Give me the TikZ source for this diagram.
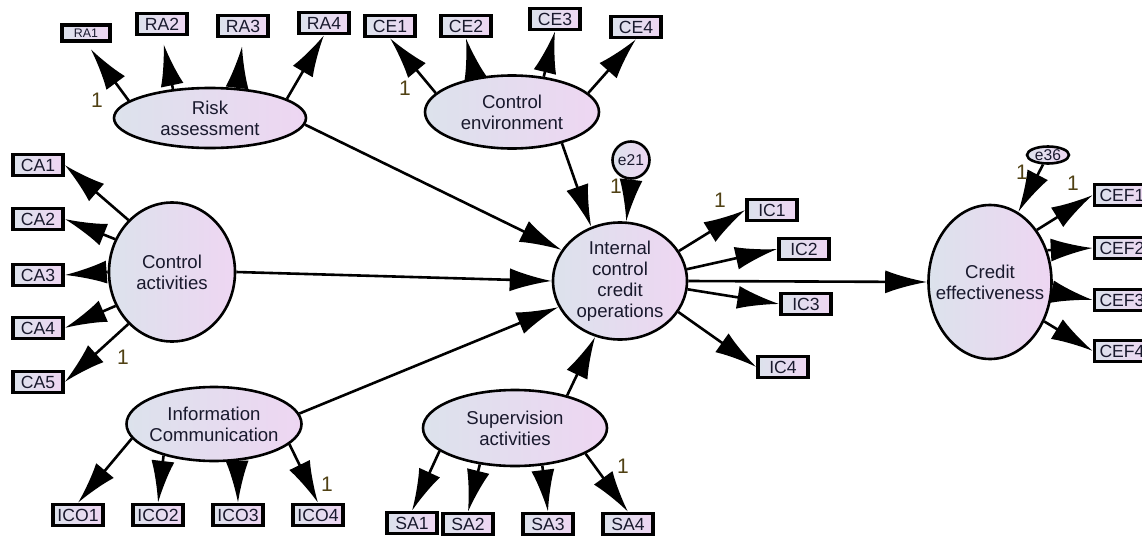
\documentclass[tikz,border=0pt]{standalone}
\usepackage{fontspec}
\setmainfont{Liberation Sans}
\usetikzlibrary{shapes.geometric, arrows.meta, positioning}
\definecolor{latblue}{RGB}{220, 226, 236}
\definecolor{latpink}{RGB}{238, 214, 242}
\definecolor{onegold}{RGB}{80, 65, 20}
\definecolor{inktext}{RGB}{25, 25, 45}

\begin{document}
\begin{tikzpicture}[x=0.5pt, y=-0.5pt,
				latent/.style={ellipse, draw=black, line width=1.3pt, left color=latblue, right color=latpink, inner sep=0pt},
				lattext/.style={align=center, font=\fontsize{9.3}{10.4}\selectfont, text=inktext},
				obs/.style={rectangle, draw=black, line width=1.7pt, left color=latblue, right color=latpink, minimum width=25pt, minimum height=10.5pt, inner sep=0pt, font=\fontsize{8.8}{9}\selectfont, text=inktext},
				obssmall/.style={obs, minimum width=24pt, minimum height=8pt, font=\fontsize{6.2}{7}\selectfont},
				err/.style={ellipse, draw=black, line width=1.3pt, left color=latblue, right color=latpink, inner sep=0pt, font=\fontsize{7.8}{8}\selectfont, text=inktext},
				arrow/.style={-{Latex[length=21pt, width=11.5pt]}, line width=1.3pt, black},
				one/.style={font=\fontsize{10.5}{11}\selectfont, text=onegold}
			]
			\useasboundingbox (0,0) rectangle (1142,536);
			\clip (0,0) rectangle (1142,536);

			% Latent variables
			\node[latent, minimum width=96pt, minimum height=30pt, label={[lattext]center:Risk\\assessment}] (ra) at (210,118) {};
			\node[latent, minimum width=87pt, minimum height=36.5pt, label={[lattext]center:Control\\environment}] (ce) at (512,112) {};
			\node[latent, minimum width=63pt, minimum height=69.5pt, label={[lattext]center:Control\\activities}] (ca) at (172,272) {};
			\node[latent, minimum width=67pt, minimum height=58.5pt, label={[lattext]center:Internal\\control\\credit\\operations}] (icco) at (620,281) {};
			\node[latent, minimum width=61.5pt, minimum height=77pt, label={[lattext]center:Credit\\effectiveness}] (cef) at (990,282) {};
			\node[latent, minimum width=87.5pt, minimum height=37pt, label={[lattext]center:Information\\Communication}] (info) at (214,424) {};
			\node[latent, minimum width=92pt, minimum height=38pt, label={[lattext]center:Supervision\\activities}] (sa) at (515,428) {};

			% Error terms
			\node[err, minimum width=18.5pt, minimum height=18.5pt] (e21) at (631,160) {e21};
			\node[err, minimum width=21pt, minimum height=8.5pt] (e36) at (1048,155) {e36};

			% Indicators
			\node[obssmall] (ra1) at (86,33) {RA1};
			\node[obs] (ra2) at (162,24) {RA2};
			\node[obs] (ra3) at (243,26) {RA3};
			\node[obs] (ra4) at (324,23) {RA4};

			\node[obs] (ce1) at (390,26) {CE1};
			\node[obs] (ce2) at (466,26) {CE2};
			\node[obs] (ce3) at (555,19) {CE3};
			\node[obs] (ce4) at (636,27) {CE4};

			\node[obs] (ca1) at (38,165) {CA1};
			\node[obs] (ca2) at (38,219) {CA2};
			\node[obs] (ca3) at (38,275) {CA3};
			\node[obs] (ca4) at (38,328) {CA4};
			\node[obs] (ca5) at (38,382) {CA5};

			\node[obs] (ic1) at (772,210) {IC1};
			\node[obs] (ic2) at (804,249) {IC2};
			\node[obs] (ic3) at (806,304) {IC3};
			\node[obs] (ic4) at (783,367) {IC4};

			\node[obs, minimum width=27.5pt] (cef1) at (1122,195) {CEF1};
			\node[obs, minimum width=27.5pt] (cef2) at (1122,248) {CEF2};
			\node[obs, minimum width=27.5pt] (cef3) at (1122,300) {CEF3};
			\node[obs, minimum width=27.5pt] (cef4) at (1122,351) {CEF4};

			\node[obs] (ico1) at (78,515) {ICO1};
			\node[obs] (ico2) at (158,515) {ICO2};
			\node[obs] (ico3) at (238,515) {ICO3};
			\node[obs] (ico4) at (318,515) {ICO4};

			\node[obs] (sa1) at (412,523) {SA1};
			\node[obs] (sa2) at (468,524) {SA2};
			\node[obs] (sa3) at (548,524) {SA3};
			\node[obs] (sa4) at (628,524) {SA4};

			% Loadings
			\draw[arrow, shorten >=4pt] (ra.168) -- (ra1.south);
			\draw[arrow, shorten >=4pt] (ra.142) -- (ra2.south);
			\draw[arrow, shorten >=4pt] (ra.48) -- (ra3.south);
			\draw[arrow] (ra.14) -- (ra4.south);

			\draw[arrow] (ce.166) -- (ce1.south);
			\draw[arrow] (ce.137) -- (ce2.south);
			\draw[arrow] (ce.48) -- (ce3.south);
			\draw[arrow] (ce.14) -- (ce4.south);

			\draw[arrow] (ca.130) -- (ca1.east);
			\draw[arrow] (ca.150) -- (ca2.east);
			\draw[arrow] (ca.180) -- (ca3.east);
			\draw[arrow] (ca.211) -- (ca4.east);
			\draw[arrow] (ca.230) -- (ca5.east);

			\draw[arrow] (icco.27) -- (ic1.west);
			\draw[arrow] (icco.10) -- (ic2.west);
			\draw[arrow] (icco.-7) -- (ic3.west);
			\draw[arrow] (icco.-28) -- (ic4.west);

			\draw[arrow] (cef.48) -- (cef1.west);
			\draw[arrow] (cef.29) -- (cef2.west);
			\draw[arrow] (cef.-9) -- (cef3.west);
			\draw[arrow] (cef.-36) -- (cef4.west);

			\draw[arrow] (info.190) -- (ico1.north);
			\draw[arrow] (info.212) -- (ico2.north);
			\draw[arrow] (info.302) -- (ico3.north);
			\draw[arrow] (info.345) -- (ico4.north);

			\draw[arrow] (sa.197) -- (sa1.north);
			\draw[arrow] (sa.226) -- (sa2.north);
			\draw[arrow] (sa.306) -- (sa3.north);
			\draw[arrow] (sa.340) -- (sa4.north);

			% Structural paths
			\draw[arrow] (ra.-4) -- (icco.152);
			\draw[arrow] (ce.-32) -- (icco.118);
			\draw[arrow] (ca.0) -- (icco.180);
			\draw[arrow] (info.7) -- (icco.203);
			\draw[arrow] (sa.32) -- (icco.246);
			\draw[arrow] (e21.south) -- (icco.84);
			\draw[arrow] (icco.0) -- (cef.180);
			\draw[arrow] (e36) -- (cef.68);

			% Fixed parameters
			\node[one] (one-ra) at (97,100) {1};
			\node[one] (one-ce) at (405,88) {1};
			\node[one] (one-ca) at (123,357) {1};
			\node[one] (one-e21) at (616,186) {1};
			\node[one] (one-ic) at (720,200) {1};
			\node[one] (one-e36) at (1022,172) {1};
			\node[one] (one-cef) at (1073,183) {1};
			\node[one] (one-ico) at (327,484) {1};
			\node[one] (one-sa) at (623,466) {1};

		\end{tikzpicture}
\end{document}
